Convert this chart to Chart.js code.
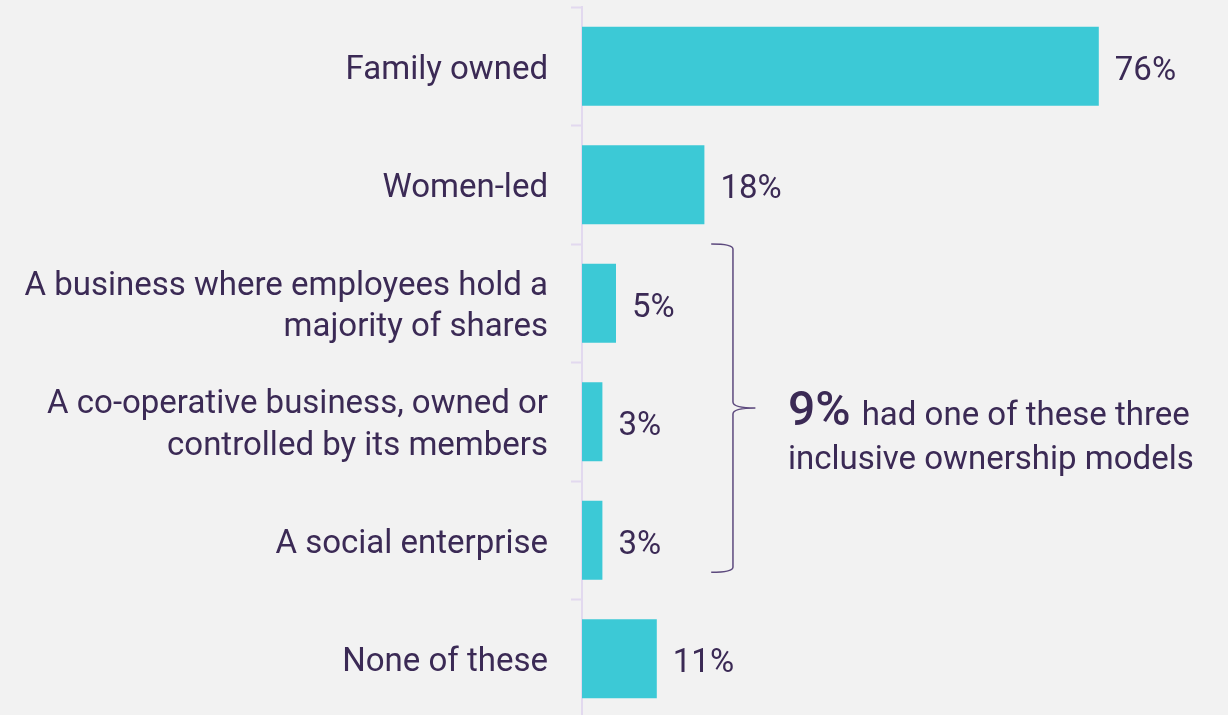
<!DOCTYPE html>
<html>
<head>
<meta charset="utf-8">
<script src="https://cdn.jsdelivr.net/npm/chart.js@4/dist/chart.umd.min.js"></script>
<style>
  html, body { margin: 0; padding: 0; background: #f2f2f2; overflow: hidden; }
  #wrap { width: 1228px; height: 718px; position: relative; }
</style>
</head>
<body>
<div id="wrap"><canvas id="myCanvas"></canvas></div>
<script>
'use strict';

let categories = [
  'Family owned',
  'Women-led',
  ['A business where employees hold a', 'majority of shares'],
  ['A co-operative business, owned or', 'controlled by its members'],
  'A social enterprise',
  'None of these'
];
let shares = [76, 18, 5, 3, 3, 11];
let noteBig = '9%';
let noteLines = ['had one of these three', 'inclusive ownership models'];

const textColor = '#3b2a55';
const barColor = '#3cc9d6';
const axisColor = '#e2d9ef';
const fontName = 'Roboto, "Liberation Sans", sans-serif';

// value labels at the end of each bar
const valueLabels = {
  id: 'valueLabels',
  afterDatasetsDraw(chart) {
    const ctx = chart.ctx;
    const meta = chart.getDatasetMeta(0);
    ctx.save();
    ctx.font = '33px ' + fontName;
    ctx.fillStyle = textColor;
    ctx.textAlign = 'left';
    ctx.textBaseline = 'middle';
    meta.data.forEach((bar, i) => {
      ctx.fillText(shares[i] + '%', bar.x + 16, bar.y + 5);
    });
    ctx.restore();
  }
};

// brace around the three inclusive models, with the note next to it
const braceNote = {
  id: 'braceNote',
  afterDraw(chart) {
    const ctx = chart.ctx;
    const y = chart.scales.y;
    const x = chart.scales.x;
    const top = y.getPixelForValue(1.5);
    const bottom = y.getPixelForValue(4.27);
    const mid = (top + bottom) / 2;
    const left = x.getPixelForValue(19);
    const line = x.getPixelForValue(22.2);
    const tip = x.getPixelForValue(25.5);
    ctx.save();
    ctx.strokeStyle = '#5d4a7e';
    ctx.lineWidth = 1.5;
    ctx.beginPath();
    ctx.moveTo(left, top);
    ctx.quadraticCurveTo(line, top, line, top + 5);
    ctx.lineTo(line, mid - 6);
    ctx.quadraticCurveTo(line, mid, tip, mid);
    ctx.moveTo(tip, mid);
    ctx.quadraticCurveTo(line, mid, line, mid + 6);
    ctx.lineTo(line, bottom - 5);
    ctx.quadraticCurveTo(line, bottom, left, bottom);
    ctx.stroke();

    const tx = x.getPixelForValue(30.3);
    ctx.fillStyle = textColor;
    ctx.textAlign = 'left';
    ctx.textBaseline = 'alphabetic';
    ctx.font = '500 48px ' + fontName;
    ctx.fillText(noteBig, tx, mid + 17);
    const w = ctx.measureText(noteBig).width;
    ctx.font = '33px ' + fontName;
    ctx.fillText(noteLines[0], tx + w + 11, mid + 17);
    ctx.fillText(noteLines[1], tx, mid + 61);
    ctx.restore();
  }
};

const myChart = new Chart(document.getElementById('myCanvas').getContext('2d'), {
  type: 'bar',
  data: {
    labels: categories,
    datasets: [{
      data: shares,
      backgroundColor: barColor,
      borderWidth: 0,
      categoryPercentage: 1,
      barPercentage: 0.667
    }]
  },
  options: {
    indexAxis: 'y',
    responsive: true,
    maintainAspectRatio: false,
    animation: false,
    layout: { padding: { top: 7, right: 34, bottom: 0, left: 0 } },
    plugins: { legend: { display: false }, tooltip: { enabled: false } },
    scales: {
      x: { display: false, min: 0, max: 90 },
      y: {
        afterFit(scale) {
          scale.width = 582;
          scale.paddingTop = 0;
          scale.paddingBottom = 0;
        },
        border: { display: true, color: axisColor, width: 2 },
        grid: { drawOnChartArea: false, drawTicks: true, tickLength: 11, tickWidth: 2, color: axisColor },
        ticks: {
          color: textColor,
          padding: 23,
          labelOffset: 4,
          font: { family: fontName, size: 33, lineHeight: 1.25 },
          autoSkip: false
        }
      }
    }
  },
  plugins: [valueLabels, braceNote]
});
</script>
</body>
</html>
